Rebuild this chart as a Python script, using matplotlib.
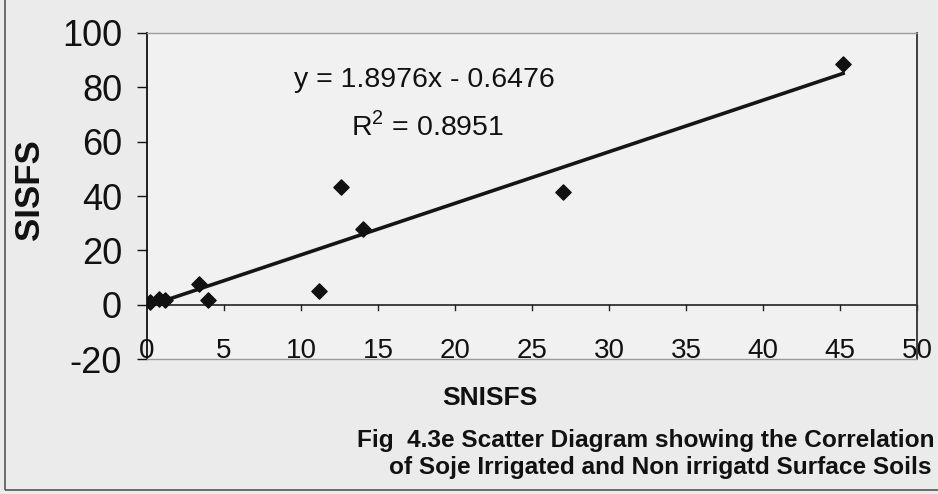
import numpy as np
import matplotlib
matplotlib.use("Agg")
import matplotlib.pyplot as plt
from matplotlib.patches import Rectangle

x_vals = [0.2, 0.8, 1.2, 3.4, 3.95, 11.2, 12.6, 14.0, 27.0, 45.2]
y_vals = [0.8, 2.1, 1.8, 7.7, 1.6, 5.1, 43.4, 27.9, 41.6, 88.7]
slope, intercept = 1.8976, -0.6476
eq_text = "y = 1.8976x - 0.6476"
r2_text = "R$^2$ = 0.8951"
x_ticks = [0, 5, 10, 15, 20, 25, 30, 35, 40, 45, 50]
y_ticks = [-20, 0, 20, 40, 60, 80, 100]
x_label = "SNISFS"
y_label = "SISFS"
caption = ["Fig  4.3e Scatter Diagram showing the Correlation",
           "of Soje Irrigated and Non irrigatd Surface Soils"]

plt.rcParams['font.family'] = ['Liberation Sans', 'DejaVu Sans']
plt.rcParams['mathtext.fontset'] = 'custom'
plt.rcParams['mathtext.rm'] = 'Liberation Sans'

fig = plt.figure(figsize=(9.38, 4.94), dpi=100, facecolor='#ebebeb')
ax = fig.add_axes([147/938, 1-359/494, (917-147)/938, (359-33)/494])
ax.set_facecolor('#f1f1f1')

ax.set_xlim(0, 50)
ax.set_ylim(-20, 100)

# trendline
xl = np.array([min(x_vals), max(x_vals)])
ax.plot(xl, slope*xl + intercept, color='#151515', lw=2.6, zorder=2)
ax.scatter(x_vals, y_vals, marker='D', s=60, color='#111111', zorder=3)

# spines
for s in ['top', 'bottom']:
    ax.spines[s].set_color('#9a9a9a')
    ax.spines[s].set_linewidth(1.0)
    ax.spines[s].set_linestyle((0, (2, 1)))
ax.spines['right'].set_color('#333333')
ax.spines['right'].set_linewidth(1.3)
ax.spines['left'].set_color('#111111')
ax.spines['left'].set_linewidth(1.3)

# x-axis line at 0
ax.axhline(0, color='#222222', lw=1.2, zorder=1)

ax.set_yticks(y_ticks)
ax.set_yticklabels([str(v) for v in y_ticks], fontsize=26)
ax.tick_params(axis='y', direction='out', length=7, width=1, pad=11, colors='#111111')

ax.set_xticks(x_ticks)
ax.set_xticklabels([str(v) for v in x_ticks], fontsize=20)
ax.tick_params(axis='x', length=0, pad=-15, colors='#111111')
# tick marks at y=0 axis
for xt in x_ticks[1:]:
    ax.plot([xt, xt], [0, -1.8], color='#222222', lw=1, zorder=1, clip_on=False)

ax.text(9.55, 82.8, eq_text, fontsize=20.5, ha='left', va='center', color='#111111')
ax.text(18.2, 65.8, r2_text, fontsize=20.5, ha='center', va='center', color='#111111')

fig.text(30/938, 1-190/494, y_label, rotation=90, fontsize=25, fontweight='bold',
         ha='center', va='center', color='#111111')
fig.text(490/938, 1-398/494, x_label, fontsize=19, fontweight='bold',
         ha='center', va='center', color='#111111')
capfam = ['Liberation Sans', 'DejaVu Sans']
fig.text(934/938, 1-440/494, caption[0], fontsize=17.6, fontweight='bold',
         ha='right', va='center', color='#111111', family=capfam)
fig.text(931/938, 1-467/494, caption[1], fontsize=17.6, fontweight='bold',
         ha='right', va='center', color='#111111', family=capfam)

fig.patches.append(Rectangle((5/938, 4/494), 1.2, 1.2, transform=fig.transFigure,
                             fill=False, edgecolor='#555555', lw=1.2))

fig.savefig('out.png', dpi=100, facecolor=fig.get_facecolor())
